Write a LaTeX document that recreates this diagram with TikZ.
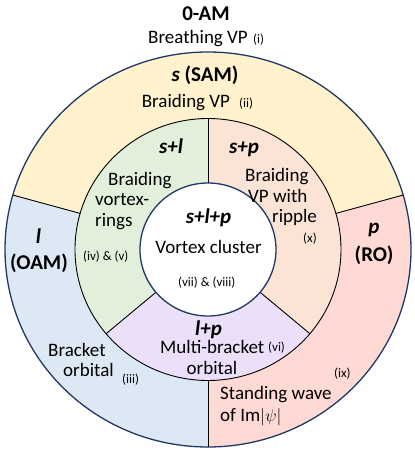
\documentclass[tikz,border=0pt]{standalone}
\usepackage{fontspec}
\setmainfont{Carlito}
\definecolor{yellowF}{HTML}{FFF2CC}
\definecolor{blueF}{HTML}{DDE8F5}
\definecolor{redF}{HTML}{FFD9D4}
\definecolor{greenF}{HTML}{E2EFDA}
\definecolor{peachF}{HTML}{FBE4D5}
\definecolor{purpleF}{HTML}{EBDFFA}
\definecolor{navy}{HTML}{1F3864}
\newcommand\RingSector[7]{%
  \fill[#7] (#1:#3 and #4) arc[start angle=#1, end angle=#2, x radius=#3, y radius=#4]
     -- (#2:#5 and #6) arc[start angle=#2, end angle=#1, x radius=#5, y radius=#6] -- cycle;}
\tikzset{
  txt/.style={font=\fontsize{19}{22}\selectfont, inner sep=0pt, anchor=base west},
  txtc/.style={txt, anchor=base},
  hd/.style={font=\fontsize{21}{24}\selectfont\bfseries, inner sep=0pt, anchor=base},
  sm/.style={font=\fontsize{13}{15}\selectfont, inner sep=0pt, anchor=base west},
  divline/.style={black, line width=0.9pt},
}
\begin{document}
\begin{tikzpicture}[x=1pt,y=-1pt]
\useasboundingbox (0,0) rectangle (415,453);
\coordinate (c) at (208,249.5);
\begin{scope}[shift={(208,249.5)}, y=1pt]
  % outer ring
  \RingSector{16}{164}{203}{197.5}{133}{131}{yellowF}
  \RingSector{164}{270}{203}{197.5}{133}{131}{blueF}
  \RingSector{-90}{16}{203}{197.5}{133}{131}{redF}
  % inner ring
  \RingSector{90}{220}{133}{131}{68}{66.5}{greenF}
  \RingSector{220}{320}{133}{131}{68}{66.5}{purpleF}
  \RingSector{-40}{90}{133}{131}{68}{66.5}{peachF}
  % dividers
  \draw[divline] (16:133 and 131) -- (16:203 and 197.5);
  \draw[divline] (164:133 and 131) -- (164:203 and 197.5);
  \draw[divline] (270:133 and 131) -- (270:203 and 197.5);
  \draw[divline] (90:68 and 66.5) -- (90:133 and 131);
  \draw[divline] (220:68 and 66.5) -- (220:133 and 131);
  \draw[divline] (320:68 and 66.5) -- (320:133 and 131);
  \draw[divline] (0,0) ellipse [x radius=133, y radius=131];
  \draw[navy, fill=white, line width=1.3pt] (0,0) ellipse [x radius=68, y radius=66.5];
  \draw[navy, line width=1.3pt] (0,0) ellipse [x radius=203, y radius=197.5];
\end{scope}
% top
\node[hd] (t0) at (206,20) {0-AM};
\node[txt] (t1) at (148,43.3) {Breathing VP};
\node[sm] (t1s) at (253,43.3) {(i)};
% s
\node[hd] (ts) at (205,81.7) {\textit{s} (SAM)};
\node[txt] (t2) at (141.7,107.3) {Braiding VP};
\node[sm] (t2s) at (239,107.3) {(ii)};
% s+l
\node[hd] (tsl) at (171,153.3) {\textit{s+l}};
\node[txt] (t3a) at (108,185) {Braiding};
\node[txt] (t3b) at (95,205) {vortex-};
\node[txt] (t3c) at (95,226) {rings};
\node[sm] (t3s) at (83,260.7) {(iv) \& (v)};
% s+p
\node[hd] (tsp) at (244,153.3) {\textit{s+p}};
\node[txt] (t4a) at (245,181.7) {Braiding};
\node[txt] (t4b) at (248,202.7) {VP with};
\node[txt] (t4c) at (272,222.7) {ripple};
\node[sm] (t4s) at (303,242.7) {(x)};
% l
\node[hd] (tl) at (38.5,243) {\textit{l}};
\node[hd] (tl2) at (39,269) {(OAM)};
% p
\node[hd] (tp) at (374,233) {\textit{p}};
\node[hd] (tp2) at (374,261.7) {(RO)};
% centre
\node[hd] (tc) at (208.5,223) {\textit{s+l+p}};
\node[txtc] (tc2) at (208.5,253) {Vortex cluster};
\node[sm, anchor=base] (tcs) at (206.7,286.7) {(vii) \& (viii)};
% l+p
\node[hd] (tlp) at (208.5,335) {\textit{l+p}};
\node[txt] (t5a) at (160,353.3) {Multi-bracket};
\node[sm] (t5s) at (268,351.7) {(vi)};
\node[txtc] (t5b) at (212,374) {orbital};
% l bottom
\node[txt] (t6a) at (48,356.7) {Bracket};
\node[txt] (t6b) at (63,376.7) {orbital};
\node[sm] (t6s) at (122,383.3) {(iii)};
% p bottom
\node[sm] (t7s) at (334,377.3) {(ix)};
\node[txt] (t7a) at (220,399.3) {Standing wave};
\node[txt] (t7b) at (220,421.7) {of Im$|\psi|$};
\end{tikzpicture}
\end{document}
